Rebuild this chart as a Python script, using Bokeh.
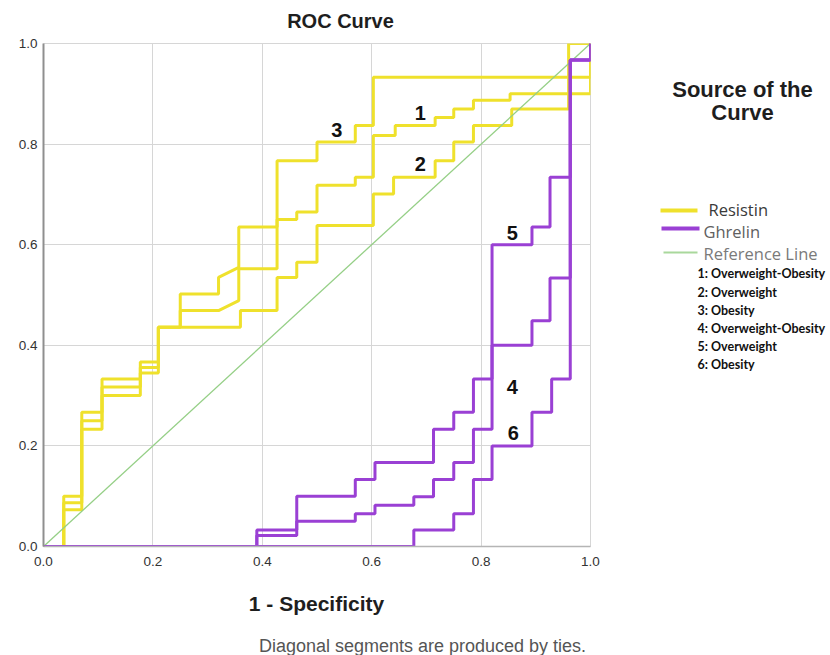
from bokeh.plotting import figure
from bokeh.layouts import column, row
from bokeh.models import Range1d, FixedTicker, Label, NumeralTickFormatter
from bokeh.embed import file_html
from bokeh.resources import INLINE

# ---------------- data ----------------
ticks = [0.0, 0.2, 0.4, 0.6, 0.8, 1.0]

# Resistin curves (1 - Specificity, Sensitivity)
res1_fpr = [0, 0.037, 0.037, 0.070, 0.070, 0.107, 0.107, 0.177, 0.177, 0.210, 0.210, 0.250, 0.250, 0.320, 0.357, 0.357,
            0.427, 0.427, 0.463, 0.463, 0.500, 0.500, 0.570, 0.570, 0.603, 0.603, 0.643, 0.643, 0.716, 0.716, 0.750, 0.750,
            0.786, 0.786, 0.853, 0.853, 1.0, 1.0]
res1_tpr = [0, 0, 0.087, 0.087, 0.250, 0.250, 0.317, 0.317, 0.356, 0.356, 0.436, 0.436, 0.469, 0.469, 0.489, 0.552,
            0.552, 0.650, 0.650, 0.665, 0.665, 0.718, 0.718, 0.734, 0.734, 0.817, 0.817, 0.837, 0.837, 0.853, 0.853, 0.870,
            0.870, 0.887, 0.887, 0.900, 0.900, 1.0]

res2_fpr = [0, 0.037, 0.037, 0.070, 0.070, 0.107, 0.107, 0.177, 0.177, 0.210, 0.210, 0.360, 0.360, 0.427, 0.427, 0.463,
            0.463, 0.500, 0.500, 0.603, 0.603, 0.640, 0.640, 0.716, 0.716, 0.750, 0.750, 0.786, 0.786, 0.856, 0.856, 0.960,
            0.960, 1.0]
res2_tpr = [0, 0, 0.073, 0.073, 0.233, 0.233, 0.300, 0.300, 0.345, 0.345, 0.436, 0.436, 0.469, 0.469, 0.535, 0.535,
            0.565, 0.565, 0.638, 0.638, 0.701, 0.701, 0.734, 0.734, 0.767, 0.767, 0.804, 0.804, 0.837, 0.837, 0.870, 0.870,
            1.0, 1.0]

res3_fpr = [0, 0.037, 0.037, 0.070, 0.070, 0.107, 0.107, 0.177, 0.177, 0.210, 0.210, 0.250, 0.250, 0.320, 0.320, 0.357,
            0.357, 0.427, 0.427, 0.500, 0.500, 0.570, 0.570, 0.603, 0.603, 1.0, 1.0]
res3_tpr = [0, 0, 0.100, 0.100, 0.267, 0.267, 0.333, 0.333, 0.367, 0.367, 0.436, 0.436, 0.502, 0.502, 0.535, 0.555,
            0.635, 0.635, 0.767, 0.767, 0.804, 0.804, 0.837, 0.837, 0.933, 0.933, 1.0]

# Ghrelin curves
ghr4_fpr = [0, 0.390, 0.390, 0.463, 0.463, 0.570, 0.570, 0.606, 0.606, 0.677, 0.677, 0.713, 0.713, 0.750, 0.750, 0.786,
            0.786, 0.820, 0.820, 0.893, 0.893, 0.926, 0.926, 0.963, 0.963, 1.0, 1.0]
ghr4_tpr = [0, 0, 0.022, 0.022, 0.050, 0.050, 0.065, 0.065, 0.082, 0.082, 0.099, 0.099, 0.133, 0.133, 0.167, 0.167,
            0.233, 0.233, 0.400, 0.400, 0.449, 0.449, 0.534, 0.534, 0.967, 0.967, 1.0]

ghr5_fpr = [0, 0.390, 0.390, 0.463, 0.463, 0.570, 0.570, 0.606, 0.606, 0.713, 0.713, 0.750, 0.750, 0.786, 0.786, 0.820,
            0.820, 0.893, 0.893, 0.926, 0.926, 0.963, 0.963, 1.0, 1.0]
ghr5_tpr = [0, 0, 0.033, 0.033, 0.100, 0.100, 0.133, 0.133, 0.167, 0.167, 0.233, 0.233, 0.267, 0.267, 0.333, 0.333,
            0.600, 0.600, 0.635, 0.635, 0.734, 0.734, 0.967, 0.967, 1.0]

ghr6_fpr = [0, 0.677, 0.677, 0.750, 0.750, 0.786, 0.786, 0.820, 0.820, 0.893, 0.893, 0.929, 0.929, 0.963, 0.963, 1.0, 1.0]
ghr6_tpr = [0, 0, 0.033, 0.033, 0.065, 0.065, 0.133, 0.133, 0.200, 0.200, 0.267, 0.267, 0.333, 0.333, 0.967, 0.967, 1.0]

ref_x = [0, 1]
ref_y = [0, 1]

legend_names = ["Resistin", "Ghrelin", "Reference Line"]
key_lines = ["1: Overweight-Obesity", "2: Overweight", "3: Obesity",
             "4: Overweight-Obesity", "5: Overweight", "6: Obesity"]
curve_ids = ["1", "2", "3", "4", "5", "6"]
# anchor points (data coords) of the curve numbers
curve_id_x = [0.689, 0.689, 0.536, 0.857, 0.857, 0.859]
curve_id_y = [0.861, 0.761, 0.829, 0.318, 0.624, 0.225]

YELLOW = "#efe12c"
PURPLE = "#9a40d4"
GREEN = "#95cf86"
FONT = "Liberation Sans"
DARK = "#1e1e1e"


def blank(width, height, xr, yr):
    f = figure(frame_width=width, frame_height=height, x_range=Range1d(*xr), y_range=Range1d(*yr),
               x_axis_type=None, y_axis_type=None, min_border=0, toolbar_location=None,
               output_backend="svg", outline_line_color=None)
    f.background_fill_color = "white"
    f.border_fill_color = "white"
    return f


# ---------------- header (title) ----------------
header = blank(830, 35, (0, 830), (35, 0))
header.add_layout(Label(x=340, y=20, text="ROC Curve", text_font=FONT, text_font_size="20px",
                        text_font_style="bold", text_color=DARK, text_align="center", text_baseline="middle"))

# ---------------- main plot ----------------
p = figure(frame_width=547, frame_height=503,
           x_range=Range1d(0, 1), y_range=Range1d(0, 1),
           output_backend="svg", toolbar_location=None,
           min_border_left=43, min_border_right=10, min_border_top=8, min_border_bottom=34)
p.background_fill_color = "white"
p.border_fill_color = "white"
p.outline_line_color = "#d6d6d6"

for ax in (p.xaxis[0], p.yaxis[0]):
    ax.ticker = FixedTicker(ticks=ticks)
    ax.formatter = NumeralTickFormatter(format="0.0")
    ax.major_tick_line_color = None
    ax.minor_tick_line_color = None
    ax.major_tick_out = 0
    ax.major_tick_in = 0
    ax.major_label_text_font = FONT
    ax.major_label_text_font_size = "13.5px"
    ax.major_label_text_color = "#333333"
p.yaxis.axis_line_color = "#8f8f8f"
p.yaxis.axis_line_width = 2
p.xaxis.axis_line_color = "#b5b5b5"
p.xaxis.axis_line_width = 1.5
p.yaxis.major_label_standoff = 6
p.xaxis.major_label_standoff = 10

p.xgrid.ticker = FixedTicker(ticks=ticks)
p.ygrid.ticker = FixedTicker(ticks=ticks)
p.grid.grid_line_color = "#d6d6d6"
p.grid.grid_line_width = 1

p.line(res1_fpr, res1_tpr, line_color=YELLOW, line_width=3)
p.line(res2_fpr, res2_tpr, line_color=YELLOW, line_width=3)
p.line(res3_fpr, res3_tpr, line_color=YELLOW, line_width=3)
p.line(ref_x, ref_y, line_color=GREEN, line_width=1.3)
p.line(ghr4_fpr, ghr4_tpr, line_color=PURPLE, line_width=3)
p.line(ghr5_fpr, ghr5_tpr, line_color=PURPLE, line_width=3)
p.line(ghr6_fpr, ghr6_tpr, line_color=PURPLE, line_width=3)

for txt, cx, cy in zip(curve_ids, curve_id_x, curve_id_y):
    p.add_layout(Label(x=cx, y=cy, text=txt, text_font=FONT, text_font_size="20px",
                       text_font_style="bold", text_color="#111111", text_align="center", text_baseline="middle"))

# ---------------- legend panel (pixel coordinates of the page) ----------------
# its frame is aligned with the main plot frame (top at page y = 43)
side = blank(230, 537, (600, 830), (580, 43))
side.add_layout(Label(x=742, y=89, text="Source of the", text_font=FONT, text_font_size="22px",
                      text_font_style="bold", text_color=DARK, text_align="center", text_baseline="middle"))
side.add_layout(Label(x=742, y=112, text="Curve", text_font=FONT, text_font_size="22px",
                      text_font_style="bold", text_color=DARK, text_align="center", text_baseline="middle"))

key_colors = [YELLOW, PURPLE, "#a9d89c"]
key_widths = [4, 4, 2]
key_x0 = [660, 661, 663]
key_x1 = [697, 699, 697]
key_ys = [210, 228, 252]
side.segment(x0=key_x0, y0=key_ys, x1=key_x1, y1=key_ys, line_color=key_colors, line_width=key_widths)
key_text_x = [708, 703, 703]
key_text_y = [209, 231, 253]
key_text_color = ["#3a3a3a", "#606060", "#7a7a7a"]
for txt, tx, ty, tc in zip(legend_names, key_text_x, key_text_y, key_text_color):
    side.add_layout(Label(x=tx, y=ty, text=txt, text_font="Open Sans", text_font_size="16.5px",
                          text_color=tc, text_align="left", text_baseline="middle"))

key_y = [273, 292, 310, 328, 346, 364]
for txt, oy in zip(key_lines, key_y):
    side.add_layout(Label(x=697, y=oy, text=txt, text_font="Lato", text_font_size="12.5px",
                          text_font_style="bold", text_color="#111111", text_align="left", text_baseline="middle"))

# ---------------- footer ----------------
footer = blank(830, 75, (0, 830), (655, 580))
footer.add_layout(Label(x=316, y=603, text="1 - Specificity", text_font=FONT, text_font_size="21px",
                        text_font_style="bold", text_color=DARK, text_align="center", text_baseline="middle"))
footer.add_layout(Label(x=422, y=645, text="Diagonal segments are produced by ties.", text_font=FONT,
                        text_font_size="18px", text_color="#555555", text_align="center", text_baseline="middle"))

layout = column(header, row(p, side), footer)
open("out.html", "w").write(file_html(layout, INLINE))
